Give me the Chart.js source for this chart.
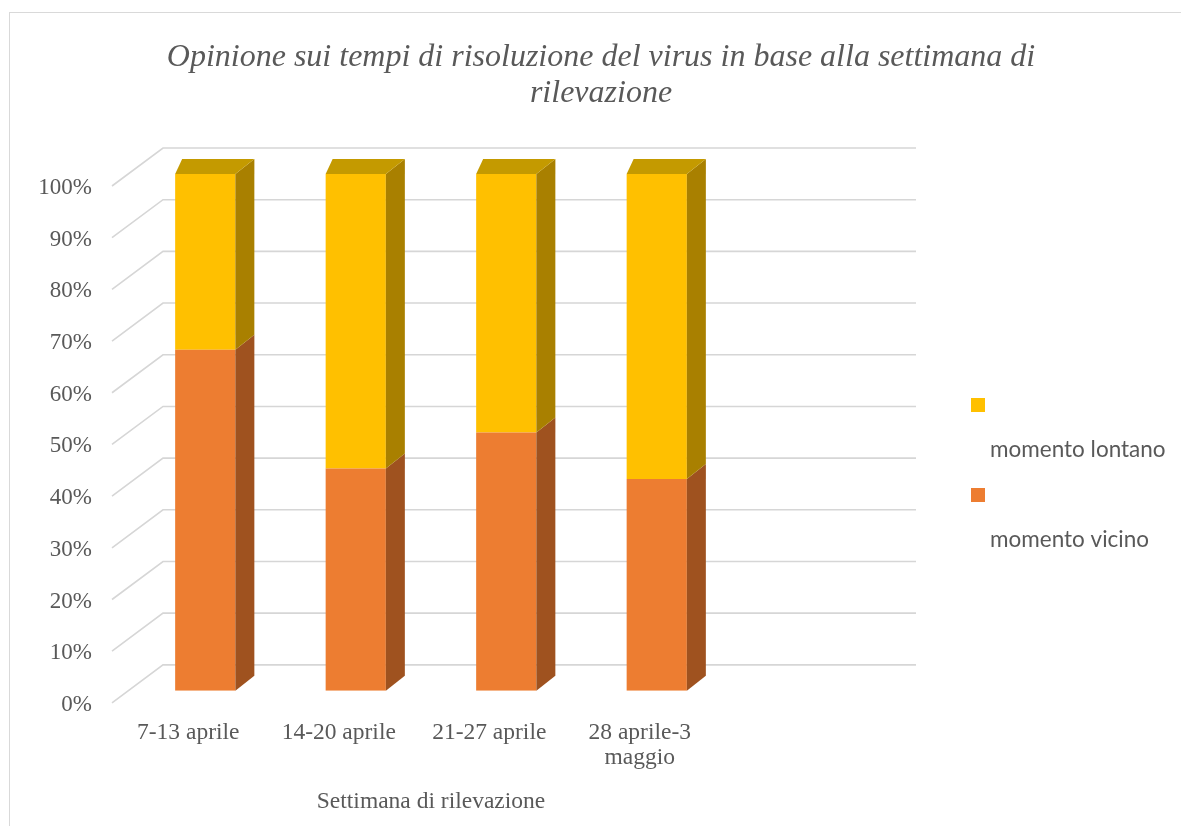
<!DOCTYPE html>
<html>
<head>
<meta charset="utf-8">
<script src="https://cdn.jsdelivr.net/npm/chart.js@4/dist/chart.umd.min.js"></script>
<style>
  html, body { margin: 0; padding: 0; background: #ffffff; overflow: hidden; }
  #frame { position: absolute; left: 9px; top: 12px; width: 1182px; height: 813px; border: 1px solid #d9d9d9; background: #fff; }
  #c { display: block; }
</style>
</head>
<body>
<div id="frame"><canvas id="c" width="1182" height="813"></canvas></div>
<script>
// ---- data ----
const categories = ['7-13 aprile', '14-20 aprile', '21-27 aprile', ['28 aprile-3', 'maggio']];
const momentoVicino = [66, 43, 50, 41];
const momentoLontano = [34, 57, 50, 59];
const seriesNames = ['momento vicino', 'momento lontano'];
const yTicks = [0, 10, 20, 30, 40, 50, 60, 70, 80, 90, 100];
const titleLines = ['Opinione sui tempi di risoluzione del virus in base alla settimana di', 'rilevazione'];
const xAxisTitle = 'Settimana di rilevazione';

// ---- styles ----
const frontColors = ['#ED7D31', '#FFC000'];
const sideColors = ['#9F521F', '#A98000'];
const topColors = ['#B5601F', '#C49A00'];
const textGray = '#595959';
const serif = '"Liberation Serif", "Times New Roman", serif';

const DEPTH_DX = 19, DEPTH_DY = -15, TOP_LEFT_DX = 7;

const gridPlugin = {
  id: 'grid3d',
  beforeDatasetsDraw(chart) {
    const y = chart.scales.y;
    const a = chart.chartArea;
    const ctx = chart.ctx;
    ctx.save();
    ctx.strokeStyle = '#d6d6d6';
    ctx.lineWidth = 1.6;
    yTicks.forEach(v => {
      const py = y.getPixelForValue(v);
      ctx.beginPath();
      ctx.moveTo(a.left - 18, py + 12);
      ctx.lineTo(a.left + 33, py - 26);
      ctx.lineTo(a.right + 184, py - 26);
      ctx.stroke();
    });
    ctx.restore();
  }
};

const barsPlugin = {
  id: 'bars3d',
  afterDatasetsDraw(chart) {
    const ctx = chart.ctx;
    ctx.save();
    const n = chart.data.datasets.length;
    chart.data.datasets.forEach((ds, di) => {
      const meta = chart.getDatasetMeta(di);
      meta.data.forEach(bar => {
        const p = bar.getProps(['x', 'y', 'base', 'width'], true);
        const left = p.x - p.width / 2, right = p.x + p.width / 2;
        const top = Math.min(p.y, p.base), bottom = Math.max(p.y, p.base);
        ctx.fillStyle = sideColors[di];
        ctx.beginPath();
        ctx.moveTo(right, top);
        ctx.lineTo(right + DEPTH_DX, top + DEPTH_DY);
        ctx.lineTo(right + DEPTH_DX, bottom + DEPTH_DY);
        ctx.lineTo(right, bottom);
        ctx.closePath();
        ctx.fill();
        if (di === n - 1) {
          ctx.fillStyle = topColors[di];
          ctx.beginPath();
          ctx.moveTo(left, top);
          ctx.lineTo(left + TOP_LEFT_DX, top + DEPTH_DY);
          ctx.lineTo(right + DEPTH_DX, top + DEPTH_DY);
          ctx.lineTo(right, top);
          ctx.closePath();
          ctx.fill();
        }
      });
    });
    ctx.restore();
  }
};

const legendPlugin = {
  id: 'legendRight',
  afterDraw(chart) {
    const ctx = chart.ctx;
    const a = chart.chartArea;
    const x0 = a.right + 239;
    let y0 = a.top + 224;
    ctx.save();
    ctx.font = '22.5px Lato, "Liberation Sans", sans-serif';
    ctx.textBaseline = 'middle';
    ctx.textAlign = 'left';
    const order = chart.data.datasets.map((d, i) => i).reverse();
    order.forEach(i => {
      const ds = chart.data.datasets[i];
      ctx.fillStyle = ds.backgroundColor;
      ctx.fillRect(x0, y0, 14, 14);
      ctx.fillStyle = textGray;
      ctx.fillText(ds.label, x0 + 19, y0 + 52);
      y0 += 90;
    });
    ctx.restore();
  }
};

new Chart(document.getElementById('c'), {
  type: 'bar',
  data: {
    labels: categories,
    datasets: [
      { label: seriesNames[0], data: momentoVicino, backgroundColor: frontColors[0], borderWidth: 0 },
      { label: seriesNames[1], data: momentoLontano, backgroundColor: frontColors[1], borderWidth: 0 }
    ]
  },
  options: {
    responsive: false,
    animation: false,
    events: [],
    layout: { padding: { left: 0, right: 0, top: 0, bottom: 11 } },
    datasets: { bar: { barPercentage: 0.4, categoryPercentage: 1.0 } },
    plugins: {
      legend: { display: false },
      tooltip: { enabled: false },
      title: {
        display: true,
        text: titleLines,
        color: textGray,
        font: { family: serif, size: 32, style: 'italic', weight: 'normal', lineHeight: 1.125 },
        padding: { top: 27, bottom: 62 }
      }
    },
    scales: {
      x: {
        stacked: true,
        grid: { display: false, drawTicks: false },
        border: { display: false },
        ticks: {
          color: textGray,
          font: { family: serif, size: 23.5, lineHeight: 1.08 },
          padding: 29,
          labelOffset: -17,
          maxRotation: 0,
          autoSkip: false
        },
        title: {
          display: true,
          text: xAxisTitle,
          color: textGray,
          font: { family: serif, size: 23.5, lineHeight: 1.08 },
          padding: { top: -10, bottom: 0 }
        }
      },
      y: {
        stacked: true,
        min: 0,
        max: 100,
        grid: { display: false, drawTicks: false },
        border: { display: false },
        afterBuildTicks(scale) { scale.ticks = yTicks.map(v => ({ value: v })); },
        afterFit(scale) { scale.width = 120; },
        ticks: {
          color: textGray,
          font: { family: serif, size: 23 },
          padding: 38,
          labelOffset: 14,
          callback: v => v + '%'
        }
      },
      yRight: {
        position: 'right',
        display: true,
        grid: { display: false, drawTicks: false },
        border: { display: false },
        ticks: { display: false },
        afterFit(scale) { scale.width = 460; }
      }
    }
  },
  plugins: [gridPlugin, barsPlugin, legendPlugin]
});
</script>
</body>
</html>
